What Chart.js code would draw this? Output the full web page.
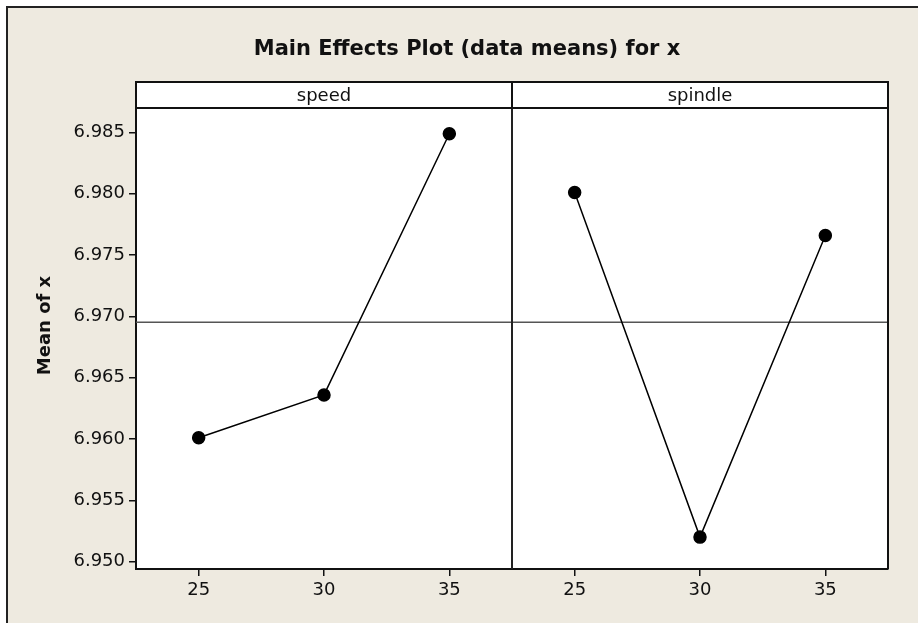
<!DOCTYPE html>
<html>
<head>
<meta charset="utf-8">
<title>Main Effects Plot</title>
<script src="https://cdn.jsdelivr.net/npm/chart.js@4/dist/chart.umd.min.js"></script>
<style>
  html, body { margin: 0; padding: 0; background: #fff; }
  #chart { display: block; }
</style>
</head>
<body>
<canvas id="chart" width="918" height="623"></canvas>
<script>
// data
const factorNames = ['speed', 'spindle'];
const levelLabels = ['25', '30', '35'];
const speedMeans = [6.9601, 6.9636, 6.9849];
const spindleMeans = [6.9801, 6.9520, 6.9766];
const yTicks = [6.950, 6.955, 6.960, 6.965, 6.970, 6.975, 6.980, 6.985];
const yMin = 6.9494;
const yMax = 6.9870;

const FONT = 'DejaVu Sans';
const BEIGE = '#eeeae0';

// overall mean = the horizontal reference line
const grandMean = speedMeans.reduce((a, b) => a + b, 0) / speedMeans.length;

const xLabels = [...levelLabels, ...levelLabels];
const speedData = [...speedMeans, null, null, null];
const spindleData = [null, null, null, ...spindleMeans];

const panelPlugin = {
    id: 'panelPlugin',
    beforeDraw(chart) {
        const ctx = chart.ctx;
        const area = chart.chartArea;
        ctx.save();
        ctx.fillStyle = '#fff';
        ctx.fillRect(0, 0, chart.width, chart.height);
        ctx.fillStyle = BEIGE;
        ctx.fillRect(7, 7, chart.width, chart.height);
        // outer frame (only left/top visible)
        ctx.strokeStyle = '#222';
        ctx.lineWidth = 2;
        ctx.beginPath();
        ctx.moveTo(7, chart.height);
        ctx.lineTo(7, 7);
        ctx.lineTo(chart.width, 7);
        ctx.stroke();
        ctx.fillStyle = '#fff';
        ctx.fillRect(area.left, area.top, area.right - area.left, area.bottom - area.top);
        ctx.restore();
    },
    beforeDatasetsDraw(chart) {
        const ctx = chart.ctx;
        const area = chart.chartArea;
        const x = chart.scales.x;
        const y = chart.scales.y;
        ctx.save();
        // reference line at the grand mean
        const yRef = y.getPixelForValue(grandMean);
        ctx.strokeStyle = '#555';
        ctx.lineWidth = 1.5;
        ctx.beginPath();
        ctx.moveTo(area.left, yRef);
        ctx.lineTo(area.right, yRef);
        ctx.stroke();
        // panel divider
        const xDiv = (x.getPixelForValue(2) + x.getPixelForValue(3)) / 2;
        ctx.strokeStyle = '#222';
        ctx.lineWidth = 2;
        ctx.beginPath();
        ctx.moveTo(xDiv, area.top);
        ctx.lineTo(xDiv, area.bottom);
        ctx.stroke();
        ctx.restore();
    },
    afterDraw(chart) {
        const ctx = chart.ctx;
        const area = chart.chartArea;
        const x = chart.scales.x;
        const stripTop = 82;
        const xDiv = (x.getPixelForValue(2) + x.getPixelForValue(3)) / 2;
        ctx.save();
        // header strip
        ctx.fillStyle = '#fff';
        ctx.fillRect(area.left, stripTop, area.right - area.left, area.top - stripTop);
        ctx.strokeStyle = '#111';
        ctx.lineWidth = 2;
        ctx.strokeRect(area.left, stripTop, area.right - area.left, area.top - stripTop);
        ctx.beginPath();
        ctx.moveTo(xDiv, stripTop);
        ctx.lineTo(xDiv, area.top);
        ctx.stroke();
        // right border of the plot box
        ctx.beginPath();
        ctx.moveTo(area.right, area.top);
        ctx.lineTo(area.right, area.bottom);
        ctx.stroke();

        ctx.fillStyle = '#111';
        ctx.font = '18px "' + FONT + '"';
        ctx.textAlign = 'center';
        ctx.textBaseline = 'middle';
        const centers = [(area.left + xDiv) / 2, (xDiv + area.right) / 2];
        factorNames.forEach((name, i) => {
            ctx.fillText(name, centers[i], (stripTop + area.top) / 2 + 1);
        });

        // y axis title, centred on strip + plot
        ctx.font = 'bold 18px "' + FONT + '"';
        ctx.translate(45, (stripTop + area.bottom) / 2);
        ctx.rotate(-Math.PI / 2);
        ctx.fillText('Mean of x', 0, 0);
        ctx.restore();
    }
};

const ctx = document.getElementById('chart').getContext('2d');
new Chart(ctx, {
    type: 'line',
    data: {
        labels: xLabels,
        datasets: [
            {
                label: factorNames[0],
                data: speedData,
                borderColor: '#000',
                borderWidth: 1.5,
                pointRadius: 6,
                pointBackgroundColor: '#000',
                pointBorderColor: '#000',
                tension: 0,
                spanGaps: false
            },
            {
                label: factorNames[1],
                data: spindleData,
                borderColor: '#000',
                borderWidth: 1.5,
                pointRadius: 6,
                pointBackgroundColor: '#000',
                pointBorderColor: '#000',
                tension: 0,
                spanGaps: false
            }
        ]
    },
    options: {
        responsive: false,
        animation: false,
        devicePixelRatio: 1,
        // left/right padding also puts the title centre at ~467px like the original
        layout: { padding: { left: 46, right: 30, top: 0, bottom: 0 } },
        plugins: {
            legend: { display: false },
            tooltip: { enabled: false },
            title: {
                display: true,
                text: 'Main Effects Plot (data means) for x',
                color: '#111',
                font: { family: FONT, size: 21, weight: 'bold' },
                padding: { top: 37.4, bottom: 45.4 }
            }
        },
        scales: {
            x: {
                type: 'category',
                offset: true,
                grid: {
                    display: true,
                    drawOnChartArea: false,
                    drawTicks: true,
                    tickLength: 7,
                    color: '#111',
                    lineWidth: 1.5,
                    offset: false
                },
                border: { display: true, color: '#111', width: 2 },
                ticks: {
                    color: '#111',
                    font: { family: FONT, size: 18 },
                    padding: 4,
                    maxRotation: 0,
                    autoSkip: false
                },
                afterFit(scale) { scale.height = 54; }
            },
            y: {
                type: 'linear',
                min: yMin,
                max: yMax,
                afterBuildTicks(scale) {
                    scale.ticks = yTicks.map(v => ({ value: v }));
                },
                grid: {
                    display: true,
                    drawOnChartArea: false,
                    drawTicks: true,
                    tickLength: 7,
                    color: '#111',
                    lineWidth: 1.5
                },
                border: { display: true, color: '#111', width: 2 },
                ticks: {
                    color: '#111',
                    font: { family: FONT, size: 18 },
                    padding: 4,
                    callback: v => v.toFixed(3)
                },
                afterFit(scale) { scale.width = 90; }
            }
        }
    },
    plugins: [panelPlugin]
});
</script>
</body>
</html>
